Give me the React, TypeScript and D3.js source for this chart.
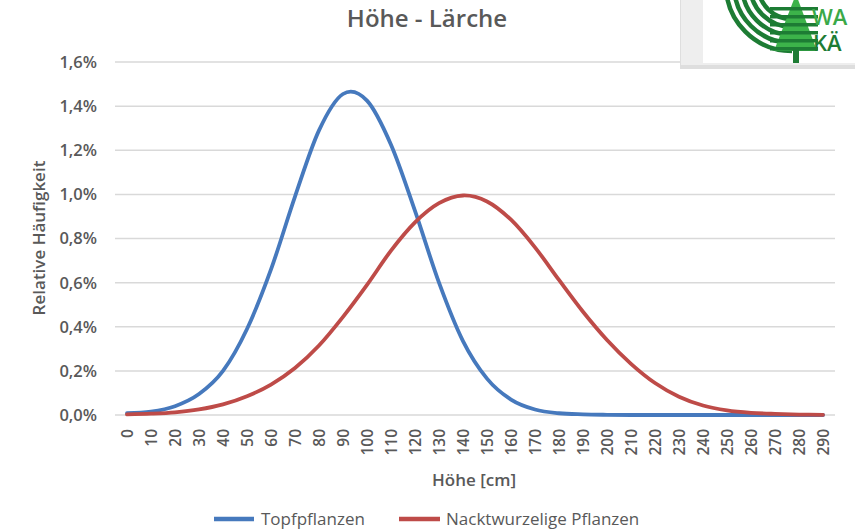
import * as d3 from "d3";

// Höhenklassen in cm
const heights = [
  "0", "10", "20", "30", "40", "50", "60", "70", "80", "90",
  "100", "110", "120", "130", "140", "150", "160", "170", "180", "190",
  "200", "210", "220", "230", "240", "250", "260", "270", "280", "290",
];

// relative Häufigkeit in %
const topfpflanzen = [
  0.008, 0.015, 0.04, 0.095, 0.2, 0.39, 0.66, 0.99, 1.29, 1.455,
  1.425, 1.225, 0.925, 0.6, 0.335, 0.165, 0.07, 0.025, 0.008, 0.003,
  0.001, 0, 0, 0, 0, 0, 0, 0, 0, 0,
];

const nacktwurzelig = [
  0.003, 0.006, 0.012, 0.025, 0.048, 0.085, 0.138, 0.213, 0.315, 0.445,
  0.59, 0.745, 0.873, 0.96, 0.995, 0.968, 0.885, 0.76, 0.612, 0.468,
  0.34, 0.232, 0.145, 0.083, 0.043, 0.021, 0.01, 0.005, 0.002, 0.001,
];

const yTicks = [0, 0.2, 0.4, 0.6, 0.8, 1.0, 1.2, 1.4, 1.6];

const series = [
  { name: "Topfpflanzen", values: topfpflanzen, color: "#4679bd" },
  { name: "Nacktwurzelige Pflanzen", values: nacktwurzelig, color: "#be4b48" },
];

const W = 855;
const H = 532;
const font = "'Open Sans', 'DejaVu Sans', sans-serif";
const textColor = "#595959";

const Logo = () => {
  // concentric arcs around a point above the box
  const cx = 792;
  const cy = -15;
  const radii = [66, 58, 50, 42, 34];
  return (
    <g>
      <rect x={680} y={0} width={175} height={69} fill="#dedede" />
      <rect x={681} y={0} width={174} height={65} fill="#eeeeee" />
      <rect x={703} y={0} width={152} height={63} fill="#ffffff" />
      <clipPath id="logoClip">
        <rect x={703} y={0} width={152} height={63} />
      </clipPath>
      <g clipPath="url(#logoClip)">
        {radii.map((r) => (
          <path
            key={r}
            d={`M ${cx - r} ${cy} A ${r} ${r} 0 0 0 ${cx} ${cy + r}`}
            fill="none"
            stroke="#1d7c34"
            strokeWidth={4.5}
          />
        ))}
        <path d="M 796 -6 L 817 51 L 774 51 Z" fill="#3cb34a" />
        {[7, 15, 23, 31, 39, 47].map((y) => (
          <rect key={y} x={770} y={y} width={48} height={3.5} fill="#1d7c34" />
        ))}
        <rect x={793} y={50} width={6} height={13} fill="#1d7c34" />
        <text fontFamily={font} fontWeight={600} fontSize={22}>
          <tspan x={812} y={25} fill="#3aa948">WA</tspan>
          <tspan x={813} y={51} fill="#1d7c34">KÄ</tspan>
        </text>
      </g>
    </g>
  );
};

const App = () => {
  const x = d3.scaleBand<string>().domain(heights).range([115, 835]);
  const y = d3.scaleLinear().domain([0, 1.6]).range([415, 62]);
  const cxOf = (h: string) => (x(h) ?? 0) + x.bandwidth() / 2;

  const line = d3
    .line<number>()
    .x((_, i) => cxOf(heights[i]))
    .y((d) => y(d))
    .curve(d3.curveCatmullRom.alpha(0));

  const fmt = (v: number) => v.toFixed(1).replace(".", ",") + "%";

  return (
    <svg
      width={W}
      height={H}
      style={{ position: "absolute", left: 0, top: 0, background: "#fff" }}
    >
      <rect width={W} height={H} fill="#fff" />

      {/* title */}
      <text
        x={427}
        y={27}
        textAnchor="middle"
        fontFamily={font}
        fontWeight={600}
        fontSize={24}
        fill={textColor}
      >
        Höhe - Lärche
      </text>

      {/* gridlines + y labels */}
      {yTicks.map((t) => (
        <g key={t}>
          <line
            x1={115}
            x2={835}
            y1={y(t)}
            y2={y(t)}
            stroke="#d9d9d9"
            strokeWidth={1.5}
          />
          <text
            x={97}
            y={y(t)}
            dy="0.36em"
            textAnchor="end"
            fontFamily={font}
            fontWeight={600}
            fontSize={16.5}
            fill={textColor}
          >
            {fmt(t)}
          </text>
        </g>
      ))}

      {/* x labels */}
      {heights.map((h) => (
        <text
          key={h}
          transform={`translate(${cxOf(h)},429) rotate(-90)`}
          dy="0.36em"
          textAnchor="end"
          fontFamily={font}
          fontWeight={600}
          fontSize={15.5}
          fill={textColor}
        >
          {h}
        </text>
      ))}

      {/* axis titles */}
      <text
        x={474}
        y={486}
        textAnchor="middle"
        fontFamily={font}
        fontWeight={600}
        fontSize={17}
        fill={textColor}
      >
        Höhe [cm]
      </text>
      <text
        transform="translate(45,238) rotate(-90)"
        textAnchor="middle"
        fontFamily={font}
        fontWeight={600}
        fontSize={17}
        fill={textColor}
      >
        Relative Häufigkeit
      </text>

      {/* lines */}
      {series.map((s) => (
        <path
          key={s.name}
          d={line(s.values) ?? ""}
          fill="none"
          stroke={s.color}
          strokeWidth={3.8}
          strokeLinecap="round"
        />
      ))}

      {/* legend */}
      <g>
        <line x1={214} x2={254} y1={519} y2={519} stroke={series[0].color} strokeWidth={4.5} />
        <text x={261} y={525} fontFamily={font} fontSize={17} fill={textColor}>
          {series[0].name}
        </text>
        <line x1={399} x2={440} y1={519} y2={519} stroke={series[1].color} strokeWidth={4.5} />
        <text x={446} y={525} fontFamily={font} fontSize={17} fill={textColor}>
          {series[1].name}
        </text>
      </g>

      <Logo />
    </svg>
  );
};

export default App;
